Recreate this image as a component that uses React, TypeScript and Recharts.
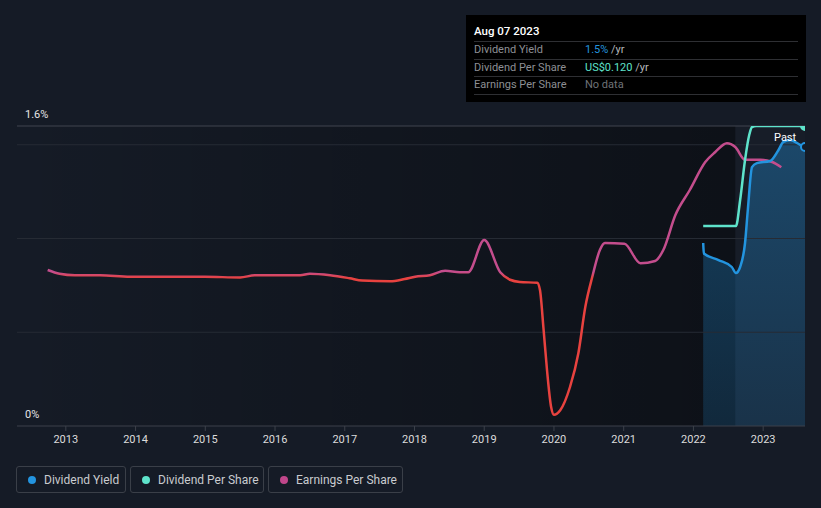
import React from 'react';
import {
  ComposedChart,
  Line,
  Area,
  XAxis,
  YAxis,
  ReferenceLine,
  ReferenceArea,
} from 'recharts';

// time axis runs in fractional years
const X_MIN = 2012.3;
const X_MAX = 2023.6;
const PAST_START = 2022.6;
const YEAR_TICKS = [2013, 2014, 2015, 2016, 2017, 2018, 2019, 2020, 2021, 2022, 2023];

// earnings per share (US$)
const EPS_T = [
  2012.74, 2012.91, 2013.13, 2013.49, 2013.92, 2014.35, 2014.78, 2014.99, 2015.5, 2015.71,
  2016.0, 2016.36, 2016.5, 2016.79, 2017.07, 2017.25, 2017.65, 2017.86, 2018.01, 2018.22,
  2018.44, 2018.65, 2018.77, 2019.0, 2019.23, 2019.37, 2019.51, 2019.76, 2019.8, 2019.85,
  2019.9, 2019.96, 2020.0, 2020.09, 2020.23, 2020.35, 2020.45, 2020.55, 2020.66, 2020.73,
  2021.01, 2021.24, 2021.45, 2021.57, 2021.74, 2021.95, 2022.17, 2022.31, 2022.48, 2022.6,
  2022.74, 2022.96, 2023.13, 2023.26,
];
const EPS_V = [
  0.208, 0.203, 0.201, 0.201, 0.199, 0.199, 0.199, 0.199, 0.198, 0.201,
  0.201, 0.201, 0.203, 0.201, 0.197, 0.194, 0.193, 0.196, 0.199, 0.201,
  0.207, 0.205, 0.205, 0.248, 0.205, 0.195, 0.192, 0.191, 0.181, 0.13,
  0.075, 0.025, 0.015, 0.021, 0.052, 0.097, 0.159, 0.199, 0.235, 0.244,
  0.243, 0.217, 0.22, 0.235, 0.281, 0.315, 0.352, 0.365, 0.377, 0.372,
  0.355, 0.355, 0.352, 0.345,
];

// dividend per share (US$)
const DPS_T = [2022.14, 2022.61, 2022.67, 2022.74, 2022.8, 2022.84, 2022.9, 2023.6];
const DPS_V = [0.08, 0.08, 0.0904, 0.1064, 0.1164, 0.1196, 0.12, 0.12];

// dividend yield (%)
const YIELD_T = [
  2022.14, 2022.15, 2022.36, 2022.55, 2022.61, 2022.67, 2022.74, 2022.78, 2022.84, 2022.91,
  2023.1, 2023.22, 2023.29, 2023.39, 2023.53, 2023.6,
];
const YIELD_V = [
  0.976, 0.92, 0.885, 0.848, 0.816, 0.848, 0.976, 1.152, 1.381, 1.402,
  1.413, 1.472, 1.515, 1.525, 1.499, 1.488,
];

const GRID_Y = [0.5, 1.0, 1.5];
const Y_LABELS = [
  { v: 0, text: '0%' },
  { v: 1.6, text: '1.6%' },
];

const zip = (t: number[], v: number[]) => t.map((x, i) => ({ t: x, v: v[i] }));
const epsData = zip(EPS_T, EPS_V);
const dpsData = zip(DPS_T, DPS_V);
const yieldData = zip(YIELD_T, YIELD_V);

const BG = '#151b26';
const BLUE = '#2394df';
const TEAL = '#5ee3cb';
const PINK = '#c44d8d';
const RED = '#e8423f';
const FONT = 'Roboto, "Noto Sans", sans-serif';

const lastDot = (len: number, color: string, filled: boolean) => (props: any) => {
  const { cx, cy, index } = props;
  if (index !== len - 1) return <g key={`n${index}`} />;
  return (
    <circle
      key={`d${index}`}
      cx={cx}
      cy={cy}
      r={4}
      fill={filled ? color : BG}
      stroke={color}
      strokeWidth={2}
    />
  );
};

const axisLabel = (text: string) => (props: any) => {
  const { viewBox } = props;
  return (
    <text x={25} y={viewBox.y - 8} fill="#e6e6e6" fontSize={11} fontFamily={FONT}>
      {text}
    </text>
  );
};

const legendItems = [
  { label: 'Dividend Yield', color: BLUE, left: 16, width: 110 },
  { label: 'Dividend Per Share', color: TEAL, left: 130, width: 134 },
  { label: 'Earnings Per Share', color: '#c0468a', left: 268, width: 135 },
];

const tooltipRows = [
  { label: 'Dividend Yield', value: '1.5%', color: BLUE, unit: ' /yr' },
  { label: 'Dividend Per Share', value: 'US$0.120', color: TEAL, unit: ' /yr' },
  { label: 'Earnings Per Share', value: 'No data', color: '#6f7378', unit: '' },
];

export default function App() {
  return (
    <div
      style={{
        position: 'absolute',
        left: 0,
        top: 0,
        width: 821,
        height: 508,
        background: BG,
        fontFamily: FONT,
        overflow: 'hidden',
      }}
    >
      <div style={{ position: 'absolute', left: 0, top: 0, width: 805, height: 508, overflow: 'hidden' }}>
        <ComposedChart width={805} height={508} margin={{ top: 126, right: 0, bottom: 58, left: 17 }}>
          <defs>
            <linearGradient id="plotShade" x1="0" y1="0" x2="1" y2="0">
              <stop offset="0%" stopColor="#000" stopOpacity={0} />
              <stop offset="100%" stopColor="#000" stopOpacity={0.38} />
            </linearGradient>
            <linearGradient id="yieldFill" x1="0" y1="0" x2="0" y2="1">
              <stop offset="0%" stopColor={BLUE} stopOpacity={0.36} />
              <stop offset="100%" stopColor={BLUE} stopOpacity={0.18} />
            </linearGradient>
            <linearGradient id="epsStroke" gradientUnits="userSpaceOnUse" x1="0" y1="0" x2="0" y2="508">
              <stop offset="0" stopColor={PINK} />
              <stop offset={272 / 508} stopColor={PINK} />
              <stop offset={278 / 508} stopColor={RED} />
              <stop offset="1" stopColor={RED} />
            </linearGradient>
          </defs>
          <XAxis
            dataKey="t"
            type="number"
            domain={[X_MIN, X_MAX]}
            ticks={YEAR_TICKS}
            allowDataOverflow
            height={24}
            stroke="#3c414a"
            tickSize={5}
            tickMargin={4}
            tick={{ fill: '#dcdcdc', fontSize: 11, fontFamily: FONT }}
          />
          <YAxis yAxisId="yield" domain={[0, 1.6]} hide allowDataOverflow />
          <YAxis yAxisId="dps" domain={[0, 0.12]} hide allowDataOverflow />
          <YAxis yAxisId="eps" domain={[0, 0.4]} hide allowDataOverflow />

          <ReferenceArea
            yAxisId="yield"
            x1={X_MIN}
            x2={PAST_START}
            y1={0}
            y2={1.6}
            fill="url(#plotShade)"
            fillOpacity={1}
            stroke="none"
            ifOverflow="visible"
          />
          <ReferenceArea
            yAxisId="yield"
            x1={PAST_START}
            x2={X_MAX}
            y1={0}
            y2={1.6}
            fill="#ffffff"
            fillOpacity={0.01}
            stroke="none"
          />
          {GRID_Y.map((g) => (
            <ReferenceLine key={g} yAxisId="yield" y={g} stroke="#262b34" strokeWidth={1} />
          ))}
          <ReferenceLine yAxisId="yield" y={1.6} stroke="#40454e" strokeWidth={1} />
          {Y_LABELS.map((l) => (
            <ReferenceLine
              key={l.text}
              yAxisId="yield"
              y={l.v}
              stroke="none"
              label={axisLabel(l.text)}
            />
          ))}

          <Area
            yAxisId="yield"
            data={yieldData}
            dataKey="v"
            type="monotone"
            stroke="none"
            fill="url(#yieldFill)"
            fillOpacity={1}
            baseValue={0}
            isAnimationActive={false}
          />
          <Line
            yAxisId="eps"
            data={epsData}
            dataKey="v"
            type="monotone"
            stroke="url(#epsStroke)"
            strokeWidth={2.5}
            dot={false}
            isAnimationActive={false}
          />
          <Line
            yAxisId="dps"
            data={dpsData}
            dataKey="v"
            type="monotone"
            stroke={TEAL}
            strokeWidth={2.5}
            dot={lastDot(dpsData.length, TEAL, true)}
            isAnimationActive={false}
          />
          <Line
            yAxisId="yield"
            data={yieldData}
            dataKey="v"
            type="monotone"
            stroke={BLUE}
            strokeWidth={2.5}
            dot={lastDot(yieldData.length, BLUE, false)}
            isAnimationActive={false}
          />
        </ComposedChart>
      </div>

      <div
        style={{
          position: 'absolute',
          left: 774,
          top: 131,
          color: '#ffffff',
          fontSize: 11,
          lineHeight: '13px',
        }}
      >
        Past
      </div>

      <div
        style={{
          position: 'absolute',
          left: 466,
          top: 15,
          width: 340,
          height: 87,
          background: '#000000',
          boxSizing: 'border-box',
          padding: '6px 8px 0 8px',
        }}
      >
        <div style={{ color: '#ffffff', fontSize: 11.5, fontWeight: 500, height: 20, lineHeight: '20px' }}>
          Aug 07 2023
        </div>
        {tooltipRows.map((r) => (
          <div
            key={r.label}
            style={{
              display: 'flex',
              borderTop: '1px solid #2e2f33',
              height: 16.5,
              lineHeight: '16.5px',
              fontSize: 11,
            }}
          >
            <div style={{ width: 111, color: '#8d8f94' }}>{r.label}</div>
            <div>
              <span style={{ color: r.color }}>{r.value}</span>
              <span style={{ color: '#b5b7bb' }}>{r.unit}</span>
            </div>
          </div>
        ))}
        <div style={{ borderTop: '1px solid #2e2f33' }} />
      </div>

      {legendItems.map((l) => (
        <div
          key={l.label}
          style={{
            position: 'absolute',
            left: l.left,
            top: 466,
            width: l.width,
            height: 27,
            boxSizing: 'border-box',
            border: '1px solid #3a3f48',
            borderRadius: 3,
            display: 'flex',
            alignItems: 'center',
            paddingLeft: 11,
            color: '#c9cbcf',
            fontSize: 12,
          }}
        >
          <span
            style={{
              width: 8,
              height: 8,
              borderRadius: 4,
              background: l.color,
              display: 'inline-block',
              marginRight: 8,
            }}
          />
          {l.label}
        </div>
      ))}
    </div>
  );
}
